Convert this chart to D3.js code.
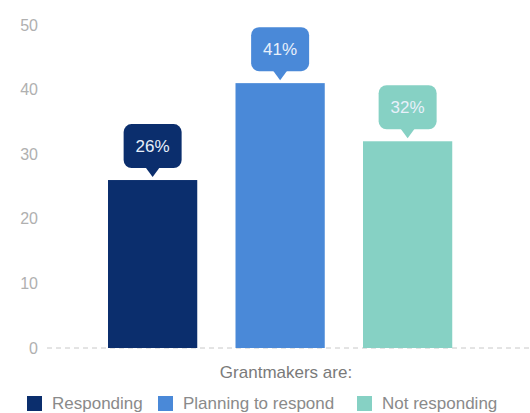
<!DOCTYPE html>
<html><head><meta charset="utf-8">
<script src="https://cdn.jsdelivr.net/npm/d3@7"></script>
<style>body{margin:0;background:#fff;}svg{display:block;font-family:"Liberation Sans",Arial,sans-serif;}</style>
</head><body>
<svg id="chart" width="530" height="413"></svg>
<script>
const categories = ["Responding", "Planning to respond", "Not responding"];
const values = [26, 41, 32];
const labels = ["26%", "41%", "32%"];
const colors = ["#0b2e6d", "#4a89d8", "#86d1c4"];
const yTicks = [0, 10, 20, 30, 40, 50];
const axisTitle = "Grantmakers are:";

const svg = d3.select("#chart");
const x = d3.scaleBand().domain(categories).range([108, 452.25]).paddingInner(0.3).paddingOuter(0);
const y = d3.scaleLinear().domain([0, 50]).range([348, 25]);

// y tick labels
const yAxis = d3.axisLeft(y).tickValues(yTicks).tickSize(0).tickPadding(0);
const ya = svg.append("g").attr("transform", "translate(38,0)").call(yAxis);
ya.select(".domain").remove();
ya.selectAll("text").attr("fill", "#b0b0b0").style("font-size", "16px").style("font-family", "Liberation Sans, Arial, sans-serif");

// baseline dashed
svg.append("line").attr("x1", 47).attr("x2", 530).attr("y1", y(0)).attr("y2", y(0))
  .attr("stroke", "#c8c8c8").attr("stroke-width", 1).attr("stroke-dasharray", "5,4");

// bars
svg.selectAll("rect.bar").data(categories).join("rect").attr("class", "bar")
  .attr("x", d => x(d)).attr("width", x.bandwidth())
  .attr("y", (d, i) => y(values[i])).attr("height", (d, i) => y(0) - y(values[i]))
  .attr("fill", (d, i) => colors[i]);

// callouts
const bw = 58, bh = 44, gap = 12;
categories.forEach((c, i) => {
  const cx = x(c) + x.bandwidth() / 2;
  const top = y(values[i]);
  const g = svg.append("g");
  g.append("rect").attr("x", cx - bw / 2).attr("y", top - gap - bh).attr("width", bw).attr("height", bh)
    .attr("rx", 8).attr("fill", colors[i]);
  g.append("path").attr("d", `M${cx - 7},${top - gap - 0.5} L${cx},${top - 3} L${cx + 7},${top - gap - 0.5} Z`).attr("fill", colors[i]);
  g.append("text").attr("x", cx).attr("y", top - gap - bh / 2).attr("dy", "0.36em")
    .attr("text-anchor", "middle").attr("fill", "#e8f0fb").style("font-size", "17px").text(labels[i]);
});

// axis title
svg.append("text").attr("x", 286).attr("y", 378).attr("text-anchor", "middle")
  .attr("fill", "#7a7a7a").style("font-size", "17px").text(axisTitle);

// legend
const legX = [27, 158, 357];
categories.forEach((c, i) => {
  svg.append("rect").attr("x", legX[i]).attr("y", 396).attr("width", 15).attr("height", 15).attr("fill", colors[i]);
  svg.append("text").attr("x", legX[i] + 25).attr("y", 409).attr("fill", "#8a8a8a").style("font-size", "17px").text(c);
});
</script>
</body></html>
